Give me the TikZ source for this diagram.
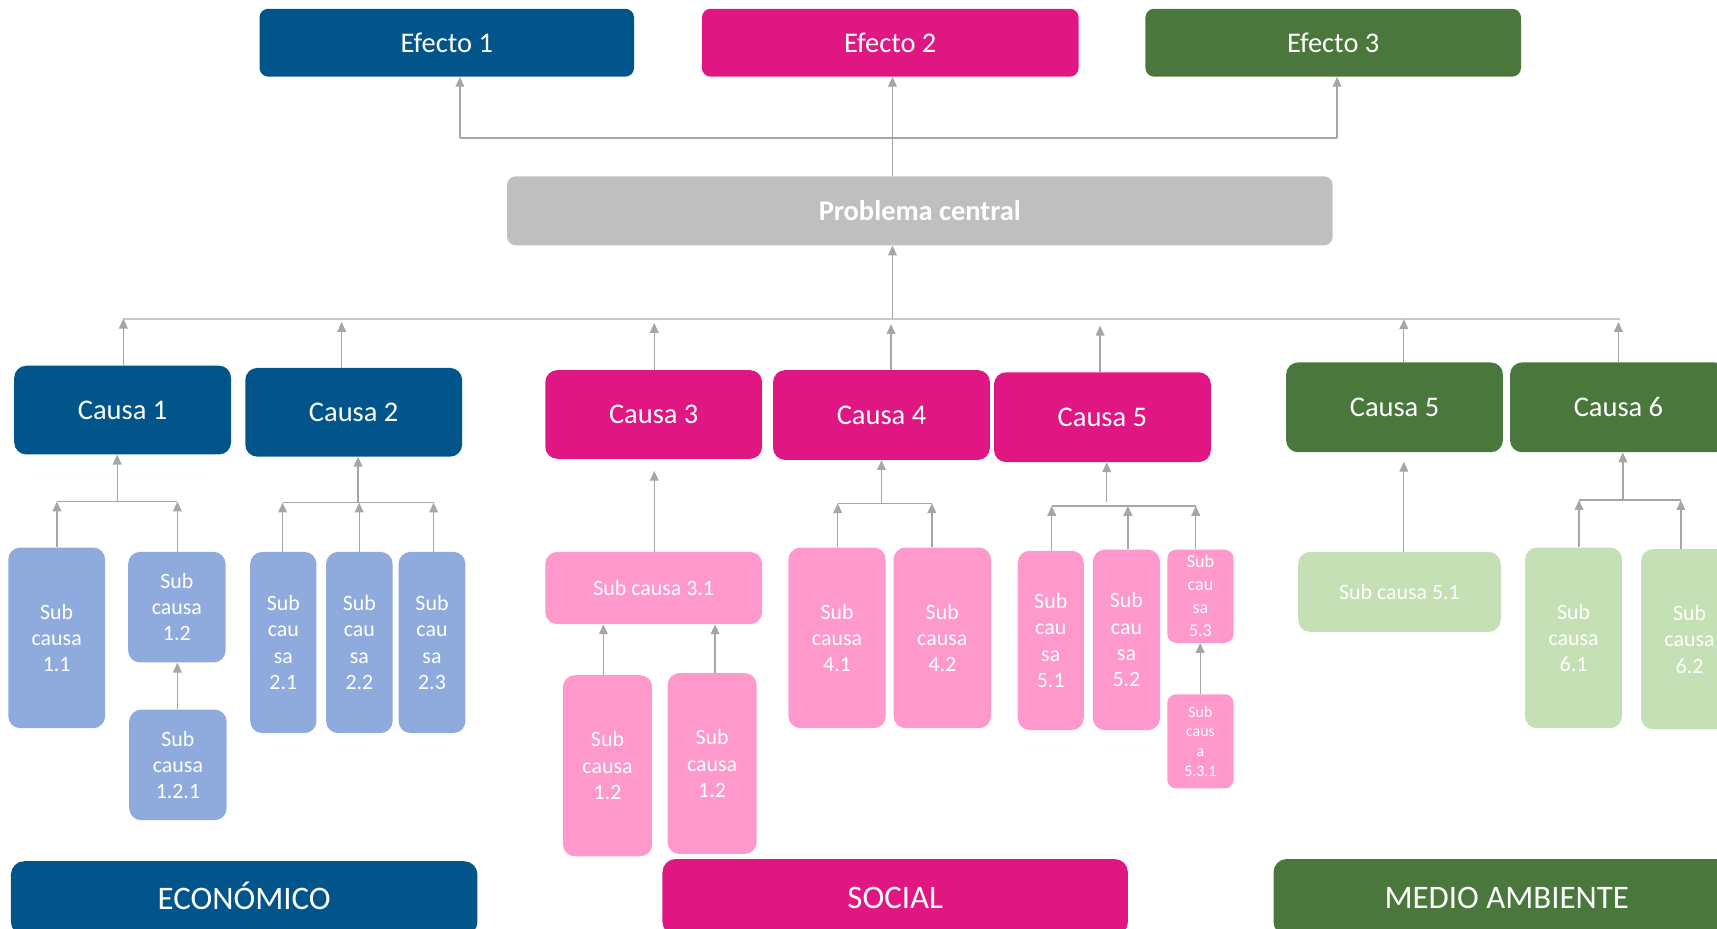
\documentclass[tikz,border=0pt]{standalone}
\usepackage{fontspec}
\setmainfont{Carlito}
\usetikzlibrary{arrows.meta}
\definecolor{cblue}{HTML}{02558B}
\definecolor{cmag}{HTML}{E01683}
\definecolor{cgreen}{HTML}{4A773C}
\definecolor{cgray}{HTML}{BFBFBF}
\definecolor{lblue}{HTML}{8FAADC}
\definecolor{lpink}{HTML}{FF99CC}
\definecolor{lgreen}{HTML}{C5E0B4}
\definecolor{arrgray}{HTML}{A6A6A6}
\definecolor{linegray}{HTML}{C9C9C9}
\begin{document}
\begin{tikzpicture}[x=1pt,y=-1pt,
  box/.style={rounded corners=11pt, inner sep=0pt, text=white, align=center},
  mainbox/.style={box, font=\fontsize{26}{30}\selectfont},
  effbox/.style={mainbox, rounded corners=8pt, minimum height=62pt},
  causebox/.style={mainbox, minimum width=198pt, minimum height=81pt},
  subbox/.style={box, font=\fontsize{20}{24}\selectfont},
  smallbox/.style={box, rounded corners=8pt, font=\fontsize{16.5}{21}\selectfont},
  tinybox/.style={box, rounded corners=8pt, font=\fontsize{14.5}{18}\selectfont},
  areabox/.style={box, rounded corners=12pt, font=\fontsize{30}{36}\selectfont, text height=21pt, text depth=0pt},
  arr/.style={draw=arrgray, line width=1.2pt, -{Triangle[width=8pt,length=9pt]}},
  conn/.style={draw=arrgray, line width=1.2pt},
  bus/.style={draw=linegray, line width=2pt}
]
\useasboundingbox (0,0) rectangle (1568,847.5);
\clip (0,0) rectangle (1568,847.5);

% Effects and central problem
\node[effbox, fill=cblue, minimum width=342pt] (e1) at (408,39) {Efecto 1};
\node[effbox, fill=cmag, minimum width=344pt] (e2) at (813,39) {Efecto 2};
\node[effbox, fill=cgreen, minimum width=343pt] (e3) at (1217.5,39) {Efecto 3};
\node[mainbox, fill=cgray, rounded corners=8pt, font=\fontsize{26}{30}\selectfont\bfseries,
      minimum width=754pt, minimum height=63pt] (p) at (840,192.5) {Problema central};

% Causes
\node[causebox, fill=cblue] (c1) at (112,374.5) {Causa 1};
\node[causebox, fill=cblue] (c2) at (323,376.5) {Causa 2};
\node[causebox, fill=cmag] (c3) at (597,378.5) {Causa 3};
\node[causebox, fill=cmag, minimum height=82pt] (c4) at (805,379) {Causa 4};
\node[causebox, fill=cmag, minimum height=82pt] (c5) at (1006.75,381) {Causa 5};
\node[causebox, fill=cgreen, minimum height=82pt] (c5g) at (1273.5,372) {Causa 5};
\node[causebox, fill=cgreen, minimum height=82pt] (c6) at (1478,372) {Causa 6};

% Sub causes - economic
\node[subbox, fill=lblue, minimum width=88.4pt, minimum height=165pt] (s11) at (51.8,582.5) {Sub\\causa\\1.1};
\node[subbox, fill=lblue, minimum width=89pt, minimum height=101pt] (s12) at (161.5,554.5) {Sub\\causa\\1.2};
\node[subbox, fill=lblue, minimum width=89pt, minimum height=101pt] (s121) at (162.5,698.5) {Sub\\causa\\1.2.1};
\node[subbox, fill=lblue, minimum width=60.5pt, minimum height=165.5pt] (s21) at (258.75,586.75) {Sub\\cau\\sa\\2.1};
\node[subbox, fill=lblue, minimum width=60.8pt, minimum height=165.5pt] (s22) at (328.2,586.75) {Sub\\cau\\sa\\2.2};
\node[subbox, fill=lblue, minimum width=61pt, minimum height=165.5pt] (s23) at (394.5,586.75) {Sub\\cau\\sa\\2.3};

% Sub causes - social
\node[subbox, fill=lpink, minimum width=198pt, minimum height=66pt] (s31) at (597,537) {Sub causa 3.1};
\node[subbox, fill=lpink, minimum width=81.6pt, minimum height=165.4pt] (s31a) at (554.8,699.3) {Sub\\causa\\1.2};
\node[subbox, fill=lpink, minimum width=81.4pt, minimum height=165.3pt] (s31b) at (650.3,697.3) {Sub\\causa\\1.2};
\node[subbox, fill=lpink, minimum width=88.8pt, minimum height=165pt] (s41) at (764.4,582.5) {Sub\\causa\\4.1};
\node[subbox, fill=lpink, minimum width=89pt, minimum height=165pt] (s42) at (860.5,582.5) {Sub\\causa\\4.2};
\node[subbox, fill=lpink, minimum width=60.3pt, minimum height=163.7pt] (s51) at (959.55,584.85) {Sub\\cau\\sa\\5.1};
\node[subbox, fill=lpink, minimum width=61.4pt, minimum height=164.7pt] (s52) at (1028.7,584.35) {Sub\\cau\\sa\\5.2};
\node[smallbox, fill=lpink, minimum width=60.5pt, minimum height=85pt] (s53) at (1096.25,544.5) {Sub\\cau\\sa\\5.3};
\node[tinybox, fill=lpink, minimum width=60.5pt, minimum height=86pt] (s531) at (1096.25,677) {Sub\\caus\\a\\5.3.1};

% Sub causes - environment
\node[subbox, fill=lgreen, minimum width=185pt, minimum height=73pt] (s51g) at (1278,540.5) {Sub causa 5.1};
\node[subbox, fill=lgreen, minimum width=88.6pt, minimum height=165pt] (s61) at (1437,582.5) {Sub\\causa\\6.1};
\node[subbox, fill=lgreen, minimum width=88.6pt, minimum height=164.5pt] (s62) at (1542.9,583.75) {Sub\\causa\\6.2};

% Areas
\node[areabox, fill=cblue, minimum width=426pt, minimum height=67.5pt] (b1) at (223,820.25) {ECONÓMICO};
\node[areabox, fill=cmag, minimum width=425pt, minimum height=69.5pt] (b2) at (817.5,819.25) {SOCIAL};
\node[areabox, fill=cgreen, minimum width=426pt, minimum height=69.5pt] (b3) at (1376,819.25) {MEDIO AMBIENTE};

% Problem -> effects
\coordinate (tl) at (420,126);
\coordinate (tr) at (1221,126);
\coordinate (tm) at (815,126);
\draw[conn] (tl) -- (tr);
\draw[arr] (tl) -- (tl |- e1.south);
\draw[arr] (tr) -- (tr |- e3.south);
\draw[arr] (tm |- p.north) -- (tm |- e2.south);

% Causes -> problem
\coordinate (bl) at (112.7,291);
\coordinate (br) at (1479.5,291);
\coordinate (bm) at (815,291);
\draw[bus] (bl) -- (br);
\draw[arr] (bm) -- (bm |- p.south);
\coordinate (t1) at (112.7,291);
\coordinate (t2) at (312,294);
\coordinate (t3) at (597.5,295);
\coordinate (t4) at (813.7,296);
\coordinate (t5) at (1004.6,297.5);
\coordinate (t5g) at (1282,291.5);
\coordinate (t6) at (1478,294);
\draw[arr] (t1 |- c1.north) -- (t1);
\draw[arr] (t2 |- c2.north) -- (t2);
\draw[arr] (t3 |- c3.north) -- (t3);
\draw[arr] (t4 |- c4.north) -- (t4);
\draw[arr] (t5 |- c5.north) -- (t5);
\draw[arr] (t5g |- c5g.north) -- (t5g);
\draw[arr] (t6 |- c6.north) -- (t6);

% Cause 1 group
\coordinate (j1) at (107,458);
\coordinate (h1a) at (52,458);
\coordinate (h1b) at (162,458);
\draw[conn] (h1a) -- (h1b);
\draw[arr] (j1) -- (j1 |- c1.south);
\draw[arr] (h1a |- s11.north) -- (h1a);
\draw[arr] (h1b |- s12.north) -- (h1b);
\draw[arr] (h1b |- s121.north) -- (h1b |- s12.south);

% Cause 2 group
\coordinate (j2) at (327,459);
\coordinate (h2a) at (258,459);
\coordinate (h2b) at (328,459);
\coordinate (h2c) at (396,459);
\draw[conn] (h2a) -- (h2c);
\draw[arr] (j2) -- (j2 |- c2.south);
\draw[arr] (h2a |- s21.north) -- (h2a);
\draw[arr] (h2b |- s22.north) -- (h2b);
\draw[arr] (h2c |- s23.north) -- (h2c);

% Cause 3 group
\coordinate (k3) at (597.5,430);
\draw[arr] (k3 |- s31.north) -- (k3);
\coordinate (x31a) at (551,600);
\coordinate (x31b) at (653,600);
\draw[arr] (x31a |- s31a.north) -- (x31a |- s31.south);
\draw[arr] (x31b |- s31b.north) -- (x31b |- s31.south);

% Cause 4 group
\coordinate (j4) at (805,459.6);
\coordinate (h4a) at (765,459.6);
\coordinate (h4b) at (851,459.6);
\draw[conn] (h4a) -- (h4b);
\draw[arr] (j4) -- (j4 |- c4.south);
\draw[arr] (h4a |- s41.north) -- (h4a);
\draw[arr] (h4b |- s42.north) -- (h4b);

% Cause 5 group
\coordinate (j5) at (1010.7,458);
\coordinate (h5a) at (960.5,462);
\coordinate (h5b) at (1030,462);
\coordinate (h5c) at (1092,462);
\draw[conn] (h5a) -- (h5c);
\draw[arr] (j5) -- (j5 |- c5.south);
\draw[arr] (h5a |- s51.north) -- (h5a);
\draw[arr] (h5b |- s52.north) -- (h5b);
\draw[arr] (h5c |- s53.north) -- (h5c);
\coordinate (x531) at (1096,600);
\draw[arr] (x531 |- s531.north) -- (x531 |- s53.south);

% Cause 5 (environment) group
\coordinate (k5g) at (1282,421.6);
\draw[arr] (k5g |- s51g.north) -- (k5g);

% Cause 6 group
\coordinate (j6) at (1482,456.7);
\coordinate (h6a) at (1442,456.7);
\coordinate (h6b) at (1535,456.7);
\draw[conn] (h6a) -- (h6b);
\draw[arr] (j6) -- (j6 |- c6.south);
\draw[arr] (h6a |- s61.north) -- (h6a);
\draw[arr] (h6b |- s62.north) -- (h6b);
\end{tikzpicture}
\end{document}
